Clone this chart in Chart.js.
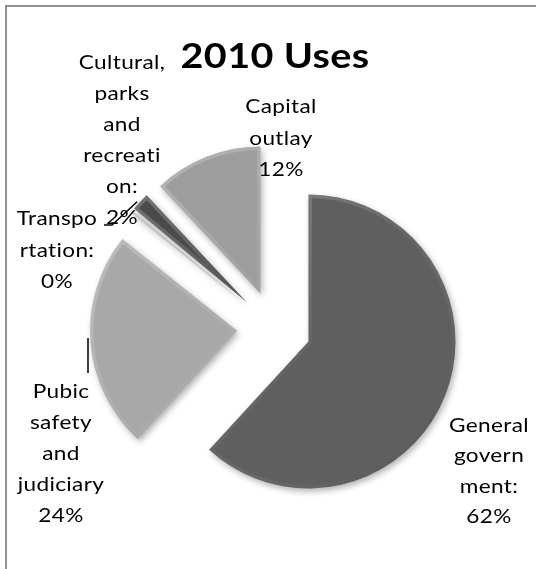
<!DOCTYPE html>
<html>
<head>
<meta charset="utf-8">
<script src="https://cdn.jsdelivr.net/npm/chart.js@4.4.0/dist/chart.umd.min.js"></script>
<style>
  html, body { margin: 0; padding: 0; background: #fff; }
  #wrap { width: 536px; height: 569px; }
</style>
</head>
<body>
<div id="wrap"><canvas id="usesChart" width="536" height="569"></canvas></div>
<script>
// 2010 uses of funds, share of total (%)
const categories = ['General government', 'Pubic safety and judiciary', 'Transportation', 'Cultural, parks and recreation', 'Capital outlay'];
const shares = [62, 24, 0.3, 2, 12];
const shareText = ['62%', '24%', '0%', '2%', '12%'];
// data labels exactly as wrapped in the original
const labelLines = [
    ['General', 'govern', 'ment:', shareText[0]],
    ['Pubic', 'safety', 'and', 'judiciary', shareText[1]],
    ['Transpo', 'rtation:', shareText[2]],
    ['Cultural,', 'parks', 'and', 'recreati', 'on:', shareText[3]],
    ['Capital', 'outlay', shareText[4]]
];
const chartTitle = '2010 Uses';

// styling
const sliceColors = ['#5f5f5f', '#a8a8a8', '#c4c4c4', '#4b4b4b', '#9d9d9d'];
const explodeDistance = 37;
const pieRadius = 147;
const labelFont = '20px Lato';
const textStretch = 1.13;
// label anchor: center x, first baseline y, line step
const labelAnchors = [
    { x: 489, y: 432, step: 30.3 },
    { x: 61, y: 398, step: 31 },
    { x: 57, y: 225, step: 31.5 },
    { x: 122, y: 69, step: 31 },
    { x: 281, y: 113, step: 31.5 }
];

function slicePath(ctx, arc) {
    ctx.beginPath();
    ctx.moveTo(arc.x, arc.y);
    ctx.arc(arc.x, arc.y, arc.outerRadius, arc.startAngle, arc.endAngle);
    ctx.closePath();
}

function stretchedText(ctx, text, x, y) {
    ctx.save();
    ctx.translate(x, y);
    ctx.scale(textStretch, 1);
    // a tiny letter spacing keeps Lato from joining "ti" into a ligature
    if ('letterSpacing' in ctx) ctx.letterSpacing = '0.3px';
    ctx.fillText(text, 0, 0);
    ctx.restore();
}

const explodedPie = {
    id: 'explodedPie',
    beforeDraw(chart) {
        const ctx = chart.ctx;
        ctx.save();
        ctx.strokeStyle = '#8e8e8e';
        ctx.lineWidth = 2;
        ctx.strokeRect(6, 6, 560, 600);
        ctx.restore();
    },
    beforeDatasetsDraw(chart) {
        const a = chart.chartArea;
        const cx = (a.left + a.right) / 2;
        const cy = (a.top + a.bottom) / 2;
        chart.getDatasetMeta(0).data.forEach(arc => {
            const mid = (arc.startAngle + arc.endAngle) / 2;
            arc.x = cx + Math.cos(mid) * explodeDistance;
            arc.y = cy + Math.sin(mid) * explodeDistance;
        });
        const ctx = chart.ctx;
        ctx.save();
        ctx.shadowColor = 'rgba(0,0,0,0.3)';
        ctx.shadowBlur = 6;
        ctx.shadowOffsetX = 2;
        ctx.shadowOffsetY = 3;
    },
    afterDatasetsDraw(chart) {
        const ctx = chart.ctx;
        ctx.restore();
        const arcs = chart.getDatasetMeta(0).data;

        // soft bevel on every slice
        arcs.forEach(arc => {
            const r = arc.outerRadius;
            ctx.save();
            slicePath(ctx, arc);
            ctx.clip();
            const g = ctx.createLinearGradient(arc.x - r, arc.y - r, arc.x + r, arc.y + r);
            g.addColorStop(0, 'rgba(255,255,255,0.28)');
            g.addColorStop(0.5, 'rgba(255,255,255,0.04)');
            g.addColorStop(1, 'rgba(0,0,0,0.22)');
            ctx.strokeStyle = g;
            ctx.lineWidth = 7;
            ctx.lineJoin = 'round';
            slicePath(ctx, arc);
            ctx.stroke();
            ctx.restore();
        });

        // leader lines
        const edge = i => {
            const arc = arcs[i];
            const mid = (arc.startAngle + arc.endAngle) / 2;
            return { x: arc.x + Math.cos(mid) * arc.outerRadius, y: arc.y + Math.sin(mid) * arc.outerRadius };
        };
        ctx.save();
        ctx.strokeStyle = '#000';
        ctx.lineWidth = 1.5;
        const c = edge(3);
        ctx.beginPath();
        ctx.moveTo(c.x - 3, c.y);
        ctx.lineTo(112, 225);
        ctx.lineTo(104, 225);
        ctx.stroke();
        const p = edge(1);
        ctx.beginPath();
        ctx.moveTo(88, p.y - 4);
        ctx.lineTo(88, 373);
        ctx.stroke();
        ctx.restore();

        // data labels
        ctx.save();
        ctx.fillStyle = '#000';
        ctx.font = labelFont;
        ctx.textAlign = 'center';
        ctx.textBaseline = 'alphabetic';
        labelLines.forEach((lines, i) => {
            const an = labelAnchors[i];
            lines.forEach((t, k) => stretchedText(ctx, t, an.x, an.y + k * an.step));
        });
        // title
        ctx.font = 'bold 35px Lato';
        stretchedText(ctx, chartTitle, 275, 68);
        ctx.restore();
    }
};

new Chart(document.getElementById('usesChart'), {
    type: 'pie',
    data: {
        labels: categories,
        datasets: [{
            data: shares,
            backgroundColor: sliceColors,
            borderWidth: 0,
            radius: pieRadius
        }]
    },
    options: {
        responsive: false,
        animation: false,
        events: [],
        layout: { padding: { left: 12, right: 0, top: 87, bottom: 0 } },
        plugins: {
            legend: { display: false },
            tooltip: { enabled: false },
            title: { display: false }
        }
    },
    plugins: [explodedPie]
});
</script>
</body>
</html>
